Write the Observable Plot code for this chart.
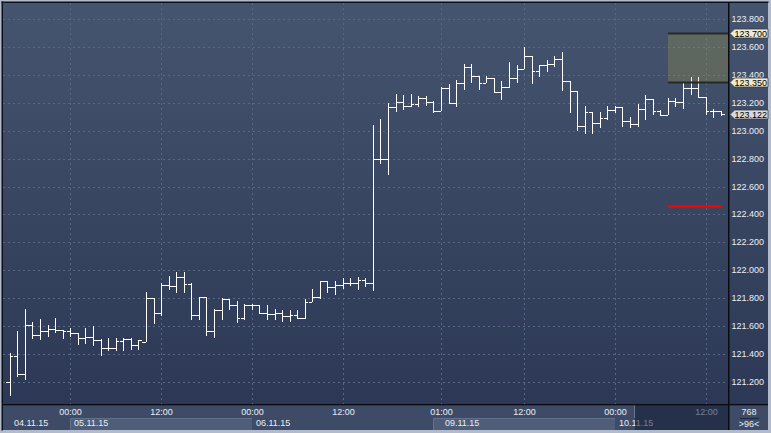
<!DOCTYPE html>
<html><head><meta charset="utf-8">
<script src="https://cdn.jsdelivr.net/npm/d3@7"></script>
<script src="https://cdn.jsdelivr.net/npm/@observablehq/plot@0.6"></script>
<style>
html,body{margin:0;padding:0;background:#b1bbcc;}
#chart{width:771px;height:433px;overflow:hidden;}
</style></head><body><div id="chart"></div>
<script>
// ---- data (hourly OHLC bars; index 0 = 05.11.15 00:00) ----
const firstIndex = -8;
const openP = [121.200,121.384,121.257,121.606,121.537,121.568,121.582,121.575,121.565,121.553,121.515,121.525,121.501,121.444,121.444,121.496,121.510,121.465,121.487,121.802,121.697,121.897,121.890,121.950,121.900,121.680,121.806,121.568,121.716,121.797,121.752,121.658,121.754,121.752,121.694,121.687,121.694,121.670,121.680,121.656,121.773,121.809,121.926,121.881,121.897,121.909,121.909,121.933,121.909,122.799,122.799,123.170,123.205,123.174,123.193,123.234,123.203,123.141,123.305,123.198,123.341,123.459,123.393,123.341,123.376,123.274,123.312,123.376,123.440,123.538,123.431,123.471,123.476,123.512,123.356,123.287,123.036,123.136,123.053,123.088,123.148,123.167,123.072,123.045,123.153,123.224,123.141,123.115,123.213,123.205,123.303,123.303,123.244,123.138,123.138];
const highP = [121.408,121.563,121.723,121.632,121.654,121.611,121.661,121.575,121.584,121.553,121.589,121.604,121.508,121.515,121.515,121.513,121.513,121.498,121.845,121.802,121.909,121.962,121.986,121.988,121.909,121.806,121.806,121.723,121.802,121.797,121.783,121.761,121.761,121.752,121.754,121.723,121.716,121.718,121.718,121.797,121.869,121.926,121.926,121.926,121.945,121.945,121.952,121.945,123.044,123.087,123.198,123.265,123.258,123.265,123.246,123.246,123.210,123.310,123.336,123.364,123.476,123.476,123.393,123.393,123.376,123.357,123.490,123.471,123.600,123.538,123.474,123.504,123.535,123.564,123.356,123.287,123.177,123.136,123.136,123.177,123.177,123.167,123.100,123.191,123.255,123.224,123.148,123.232,123.232,123.339,123.387,123.387,123.244,123.153,123.138];
const lowP = [121.097,121.233,121.217,121.508,121.498,121.520,121.551,121.510,121.522,121.463,121.475,121.455,121.384,121.420,121.420,121.420,121.432,121.427,121.484,121.613,121.670,121.861,121.838,121.838,121.647,121.642,121.527,121.513,121.642,121.718,121.623,121.642,121.718,121.687,121.647,121.647,121.632,121.627,121.651,121.651,121.773,121.797,121.835,121.821,121.866,121.885,121.857,121.881,121.849,122.759,122.681,123.132,123.146,123.170,123.170,123.174,123.127,123.139,123.198,123.167,123.293,123.345,123.293,123.341,123.269,123.222,123.305,123.341,123.440,123.334,123.388,123.424,123.455,123.287,123.124,122.998,122.974,122.974,123.021,123.076,123.129,123.029,123.021,123.029,123.076,123.112,123.105,123.115,123.172,123.155,123.255,123.244,123.110,123.088,123.105];
const closeP = [121.384,121.257,121.606,121.537,121.568,121.582,121.575,121.565,121.553,121.515,121.525,121.501,121.444,121.444,121.496,121.510,121.465,121.498,121.802,121.697,121.897,121.890,121.950,121.900,121.680,121.806,121.568,121.716,121.797,121.752,121.658,121.754,121.752,121.694,121.687,121.694,121.670,121.680,121.656,121.773,121.809,121.926,121.881,121.897,121.909,121.909,121.933,121.909,122.799,122.799,123.170,123.205,123.174,123.193,123.234,123.203,123.141,123.305,123.198,123.341,123.459,123.393,123.341,123.376,123.274,123.312,123.376,123.440,123.538,123.431,123.471,123.476,123.512,123.356,123.287,123.036,123.136,123.053,123.088,123.148,123.167,123.072,123.045,123.153,123.224,123.141,123.115,123.213,123.205,123.303,123.303,123.244,123.138,123.138,123.122];

const yTicks = [121.2,121.4,121.6,121.8,122.0,122.2,122.4,122.6,122.8,123.0,123.2,123.4,123.6,123.8];
const timeTickIndex = [0,12,24,36,49,60,72,84];
const timeTickLabels = ["00:00","12:00","00:00","12:00","01:00","12:00","00:00","12:00"];
const dateLabelIndex = [-8,0,24,49,72];
const dateLabels = ["04.11.15","05.11.15","06.11.15","09.11.15","10.11.15"];
const dayStartIndex = [0,24,48,72];
const rangeStartIndex = 79, rangeLow = 123.35, rangeHigh = 123.7;
const redLevel = 122.46, redStartIndex = 79, redEndIndex = 86;
const lastPrice = 123.122;
const barCountText = "768", visibleText = ">96<";
const viewStartIndex = 74.65;

const bars = openP.map((o, i) => ({k: firstIndex + i, open: o, high: highP[i], low: lowP[i], close: closeP[i]}));

// ---- layout ----
const W = 771, H = 433;
const xDomain = [-8.897, 86.95];
const yDomain = [121.0423, 123.9148];
const txt = "#eaeef5";
const fontFam = "'Liberation Sans', Arial, sans-serif";

const timeMap = new Map(timeTickIndex.map((k, i) => [k, timeTickLabels[i]]));
const dateMap = new Map(dateLabelIndex.map((k, i) => [k, dateLabels[i]]));

const chart = Plot.plot({
  width: W, height: H,
  marginLeft: 3, marginRight: 43, marginTop: 3, marginBottom: 29,
  x: {domain: xDomain, round: true, axis: null},
  y: {domain: yDomain, round: true, axis: null},
  style: `background: transparent; color: ${txt}; font-family: ${fontFam}; font-size: 9px; overflow: visible;`,
  marks: [
    Plot.ruleY(yTicks, {stroke: "#586784", strokeDasharray: "2,3", strokeWidth: 1}),
    Plot.ruleX(timeTickIndex, {stroke: "#586784", strokeDasharray: "2,3", strokeWidth: 1}),
    Plot.ruleX(bars, {x: "k", y1: "low", y2: "high", stroke: "#ffffff"}),
    Plot.ruleY(bars, {y: "open", x1: d => d.k - 0.49, x2: "k", stroke: "#ffffff"}),
    Plot.ruleY(bars, {y: "close", x1: "k", x2: d => d.k + 0.49, stroke: "#ffffff"}),
    Plot.rect([rangeLow], {x1: rangeStartIndex, x2: xDomain[1], y1: rangeLow, y2: rangeHigh, fill: "#c8b83c", fillOpacity: 0.22}),
    Plot.ruleY([rangeLow, rangeHigh], {x1: rangeStartIndex, x2: xDomain[1], stroke: "#252a22", strokeWidth: 2}),
    Plot.ruleY([redLevel], {x1: redStartIndex, x2: redEndIndex, stroke: "#ff0000", strokeWidth: 2}),
    Plot.axisY(yTicks, {anchor: "right", tickSize: 0, tickPadding: 3, label: null,
      tickFormat: d => d.toFixed(3), fill: txt, fontSize: 9, fontFamily: fontFam}),
    Plot.axisX(timeTickIndex, {anchor: "bottom", tickSize: 0, tickPadding: 4, label: null,
      tickFormat: d => timeMap.get(d), fill: txt, fontSize: 9, fontFamily: fontFam}),
    Plot.axisX(dateLabelIndex, {anchor: "bottom", tickSize: 0, tickPadding: 15, label: null, textAnchor: "start", dx: 3.5,
      tickFormat: d => dateMap.get(d), fill: txt, fontSize: 9, fontFamily: fontFam})
  ]
});
document.getElementById("chart").appendChild(chart);

// ---- decorations drawn with the plot's own scales ----
const svg = d3.select(chart);
const X = v => chart.scale("x").apply(v);
const Y = v => chart.scale("y").apply(v);
const plotRight = W - 43, plotBottom = H - 29;

const bg = svg.insert("g", ":first-child");
const grad = bg.append("defs").append("linearGradient").attr("id", "plotGrad")
  .attr("x1", 0).attr("y1", 0).attr("x2", 0).attr("y2", 1);
grad.append("stop").attr("offset", "0%").attr("stop-color", "#45546f");
grad.append("stop").attr("offset", "100%").attr("stop-color", "#2c3855");
bg.append("rect").attr("x", 3).attr("y", 3).attr("width", W - 6).attr("height", plotBottom - 3).attr("fill", "url(#plotGrad)");
bg.append("rect").attr("x", 3).attr("y", plotBottom).attr("width", W - 6).attr("height", H - 3 - plotBottom).attr("fill", "#3d4b67");
// alternating day boxes in the date row
[[dayStartIndex[0], dayStartIndex[1]], [dayStartIndex[2], dayStartIndex[3]]].forEach(([a, b]) => {
  bg.append("rect").attr("x", X(a)).attr("y", 418).attr("width", X(b) - X(a)).attr("height", 12)
    .attr("fill", "#4f5d79");
  bg.append("path").attr("d", `M${X(a) + 0.5},430V418.5H${X(b)}`).attr("fill", "none").attr("stroke", "#62718d");
});

const fg = svg.append("g").attr("text-anchor", "start");
// greyed zone in the time panel
fg.append("rect").attr("x", X(viewStartIndex)).attr("y", plotBottom + 1).attr("width", plotRight - X(viewStartIndex)).attr("height", H - 3 - plotBottom - 1)
  .attr("fill", "rgb(19,28,52)").attr("opacity", 0.55);
fg.append("line").attr("x1", X(viewStartIndex) - 0.5).attr("x2", X(viewStartIndex) - 0.5).attr("y1", plotBottom + 1).attr("y2", 418)
  .attr("stroke", "#6a7690");
// dark frame lines
fg.append("rect").attr("x", 1.5).attr("y", 1.5).attr("width", 1.5).attr("height", H - 4).attr("fill", "#0d1019");
fg.append("rect").attr("x", 1.5).attr("y", 1.5).attr("width", W - 4).attr("height", 1.5).attr("fill", "#0d1019");
fg.append("rect").attr("x", plotRight).attr("y", 2).attr("width", 1.5).attr("height", H - 5).attr("fill", "#0a0c12");
fg.append("rect").attr("x", 3).attr("y", plotBottom).attr("width", W - 6).attr("height", 1.3).attr("fill", "#0a0c12");
// bottom-right info box
fg.append("text").attr("x", 749).attr("y", 415).attr("text-anchor", "middle").attr("fill", txt)
  .attr("font-size", 9).attr("font-family", fontFam).text(barCountText);
fg.append("line").attr("x1", 740).attr("x2", 759).attr("y1", 418.5).attr("y2", 418.5).attr("stroke", "#1e2639");
fg.append("text").attr("x", 749).attr("y", 427).attr("text-anchor", "middle").attr("fill", txt)
  .attr("font-size", 9).attr("font-family", fontFam).text(visibleText);
// price tags on the right axis
[[rangeHigh, "#efebd3"], [rangeLow, "#efebd3"], [lastPrice, "#d6dae2"]].forEach(([v, f]) => {
  const y = Y(v) + 0.5;
  fg.append("path").attr("d", `M${plotRight + 2},${y} L${plotRight + 6.5},${y - 4.5} H768 V${y + 4.5} H${plotRight + 6.5} Z`)
    .attr("fill", f).attr("stroke", "#3a3a3a").attr("stroke-width", 0.8);
  fg.append("text").attr("x", plotRight + 6.5).attr("y", y + 3.3).attr("fill", "#000000").attr("text-anchor", "start")
    .attr("font-size", 9).attr("font-family", fontFam).text(v.toFixed(3));
});
</script></body></html>
